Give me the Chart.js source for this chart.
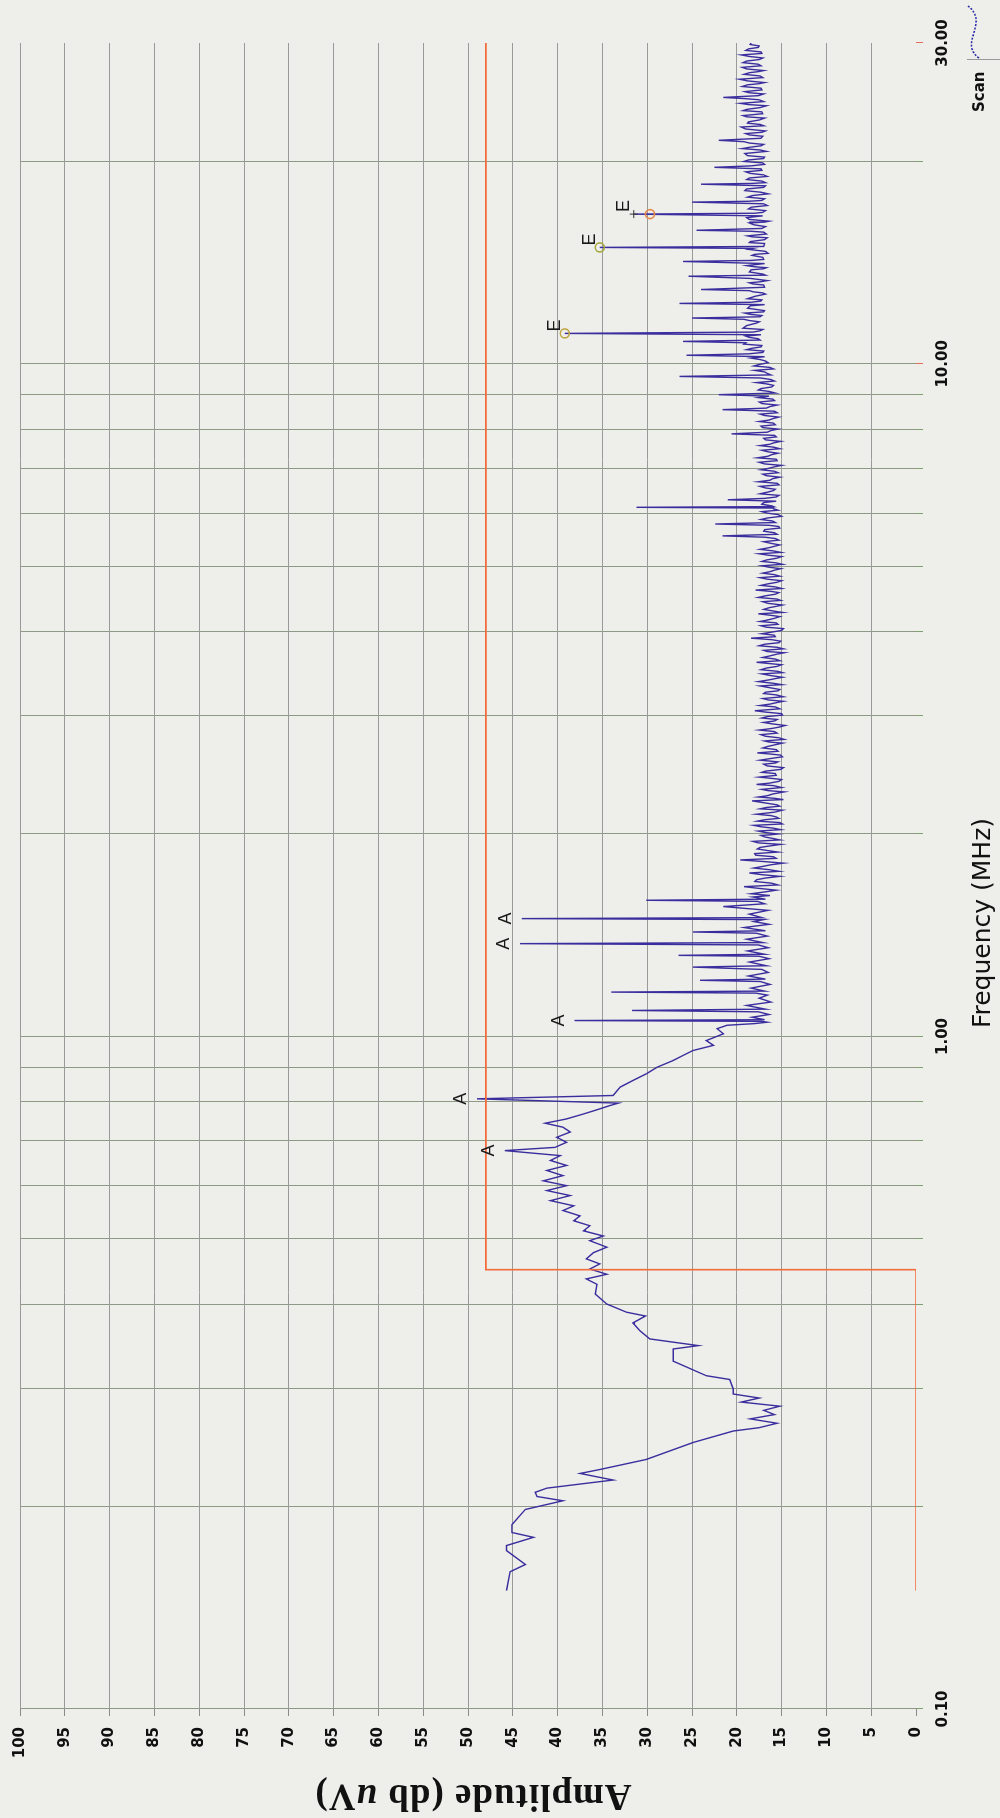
<!DOCTYPE html>
<html><head><meta charset="utf-8">
<script src="https://cdn.jsdelivr.net/npm/chart.js@4.4.1/dist/chart.umd.min.js"></script>
<style>
html,body{margin:0;padding:0;background:#eeeeea;overflow:hidden;width:1000px;height:1818px;}
#frame{position:absolute;left:0;top:0;width:1818px;height:1000px;transform-origin:0 0;transform:translate(0,1818px) rotate(-90deg);}
canvas{display:block;}
</style></head><body>
<div id="frame"><canvas id="c" width="1818" height="1000"></canvas></div>
<script>
// Conducted emission scan, 0.15 - 30 MHz (frequency in MHz, level in dBuV)
const lowBandFreq = [0.150,0.160,0.164,0.172,0.175,0.180,0.183,0.188,0.198,0.204,0.207,0.210,0.213,0.216,0.219,0.224,0.227,0.235,0.249,0.259,
  0.262,0.266,0.270,0.274,0.278,0.282,0.286,0.290,0.294,0.299,0.309,0.313,0.329,0.343,0.347,0.355,0.365,0.375,0.384,0.389,0.400,0.414];
const lowBandLevel = [45.7,45.3,43.6,45.7,45.7,42.7,45.1,45.1,43.6,39.4,42.3,42.5,41.2,37.5,33.8,37.5,35.3,30.1,24.9,20.4,
  17.5,15.5,18.5,15.8,17.0,15.2,19.5,17.5,20.4,20.4,20.8,23.4,27.1,27.1,24.3,29.7,30.8,31.6,30.2,32.3,34.5,35.8];

const midBandFreq = [0.428,0.436,0.443,0.451,0.459,0.467,0.477,0.486,0.497,0.505,0.514,0.523,0.532,0.541,0.551,0.560,0.570,0.580,0.590,0.600,
  0.610,0.621,0.632,0.643,0.654,0.665,0.6765,0.684,0.696,0.708,0.721,0.733,0.743,0.754,0.767,0.778,0.789,0.796,0.8077,0.817,
  0.841,0.860,0.880,0.900,0.921,0.937,0.953,0.970,0.986,1.009,1.027,1.039];
const midBandLevel = [35.6,36.8,34.5,36.4,35.3,36.8,36.0,34.5,36.4,34.9,37.1,36.4,38.2,37.5,39.4,38.2,40.8,38.6,41.2,39.0,
  41.6,39.4,41.2,39.0,40.8,39.7,45.9,40.3,39.0,40.1,38.6,39.4,41.4,39.0,37.1,35.6,34.2,33.2,49.0,33.8,
  33.0,31.6,30.1,28.9,27.1,26.0,24.9,22.6,23.4,21.5,22.2,21.1];

const spurBandFreq = [1.045,1.050,1.053,1.056,1.059,1.068,1.078,1.088,1.093,1.098,1.112,1.125,1.140,1.152,1.160,1.164,1.168,1.180,1.195,1.207,
  1.212,1.217,1.230,1.245,1.258,1.268,1.274,1.290,1.305,1.316,1.320,1.325,1.340,1.355,1.368,1.374,1.379,1.395,1.410,1.424,
  1.430,1.436,1.452,1.468,1.482,1.492,1.497,1.502,1.520,1.540,1.560,1.575,1.588,1.594,1.600,1.612,1.620];
const spurBandLevel = [18.0,16.6,17.2,38.1,16.9,18.3,16.4,17.6,31.7,16.8,18.9,16.2,17.5,16.6,17.9,34.0,16.9,18.4,16.3,17.4,
  24.1,16.8,18.7,16.5,17.2,24.9,16.7,18.6,16.4,17.5,26.5,16.9,18.8,16.5,17.6,44.2,17.1,18.9,16.6,17.8,
  24.9,16.8,19.2,16.4,18.1,17.0,44.0,17.2,18.6,16.5,21.5,16.9,17.7,30.1,16.8,18.2,16.3];

const highBandFreq = [
  1.63,1.65,1.67,1.69,1.71,1.73,1.75,1.77,1.79,1.81,1.83,1.85,1.87,1.89,1.91,1.93,1.95,1.97,1.99,
  2.00,2.02,2.04,2.06,2.08,2.10,2.12,2.14,2.17,2.19, 2.21,2.24,2.26,2.28,2.31,2.33,2.36,2.38,2.41,2.43,
  2.46,2.48,2.51,2.54,2.56,2.59,2.62,2.64,2.67,2.70, 2.73,2.75,2.78,2.81,2.84,2.87,2.90,2.93,2.96,2.99,
  3.02,3.05,3.09,3.12,3.15,3.18,3.22,3.25,3.28,3.32, 3.35,3.39,3.42,3.46,3.49,3.53,3.57,3.60,3.64,3.68,
  3.72,3.75,3.79,3.83,3.87,3.91,3.95,3.99,4.04,4.08, 4.12,4.16,4.21,4.25,4.29,4.34,4.38,4.43,4.47,4.52,
  4.57,4.61,4.66,4.71,4.76,4.81,4.86,4.91,4.96,5.01, 5.06,5.11,5.17,5.22,5.27,5.33,5.38,5.44,5.50,5.55,
  5.61,5.67,5.73,5.78,5.84,5.90,5.97,6.03,6.09,6.12, 6.15,6.22,6.28,6.34,6.41,6.48,6.54,6.61,6.68,6.75,
  6.82,6.89,6.96,7.03,7.10,7.18,7.25,7.33,7.40,7.48, 7.56,7.63,7.71,7.79,7.87,7.96,8.04,8.12,8.21,8.29,
  8.38,8.46,8.55,8.64,8.73,8.82,8.91,9.00,9.10,9.19, 9.29,9.38,9.48,9.58,9.68,9.78,9.88,9.98,10.1,10.2,
  10.3,10.4,10.5,10.6,10.7,10.8,10.9,11.0,11.1,11.2, 11.3,11.5,11.6,11.7,11.8,11.9,12.0,12.2,12.3,12.4,
  12.5,12.7,12.8,12.9,13.1,13.2,13.3,13.5,13.6,13.8, 13.9,14.0,14.2,14.3,14.5,14.6,14.8,14.9,15.1,15.2,
  15.4,15.5,15.7,15.8,16.0,16.2,16.3,16.5,16.7,16.8, 17.0,17.2,17.4,17.5,17.7,17.9,18.1,18.3,18.5,18.6,
  18.8,19.0,19.2,19.4,19.6,19.8,20.0,20.2,20.4,20.7, 20.9,21.1,21.3,21.5,21.8,22.0,22.2,22.5,22.7,22.9,
  23.2,23.4,23.7,23.9,24.2,24.4,24.7,24.9,25.2,25.4, 25.7,26.0,26.2,26.5,26.8,27.1,27.3,27.6,27.9,28.2,
  28.5,28.8,29.1,29.4,29.7,30.0];
const highBandLevel = [
  18.4,15.6,19.2,16.1,17.8,15.2,18.6,16.4,17.1,14.8,19.6,15.9,18.0,16.6,17.4,15.1,18.2,16.0,17.3,
  15.4,17.6,15.9,18.1,15.2,16.9,15.6,17.8,14.9,16.7, 15.5,18.3,15.8,16.6,14.7,17.2,15.9,16.4,15.0,17.5,
  15.7,16.8,14.8,17.0,15.4,16.2,15.1,17.7,15.6,16.5, 14.9,16.9,15.3,17.3,15.8,16.1,14.6,17.0,15.5,16.6,
  15.0,18.0,15.7,16.3,14.8,17.1,15.6,16.8,15.2,17.4, 15.9,16.4,14.9,17.2,15.4,16.7,15.0,17.8,15.7,16.3,
  14.7,17.0,15.5,16.9,15.1,18.4,15.8,16.2,14.8,17.3, 15.6,16.6,15.2,17.6,15.9,16.4,14.9,17.1,15.5,16.8,
  15.3,17.9,15.7,16.5,15.0,17.4,15.8,16.3,15.1,17.2, 15.6,16.7,15.0,17.5,15.9,16.4,15.2,17.0,15.7,21.6,
  15.8,16.9,15.3,22.4,16.0,16.6,15.4,17.2,15.9,31.2, 16.1,17.0,21.0,15.6,17.4,15.9,16.8,15.3,17.6,16.0,
  16.7,15.4,17.3,15.8,16.9,15.5,17.7,16.1,16.5,15.2, 17.4,15.9,16.8,15.6,20.6,16.2,17.1,15.7,17.5,16.0,
  16.9,15.5,21.6,16.3,17.2,15.8,17.6,22.0,16.4,17.3, 15.9,17.8,16.2,26.4,16.6,18.0,16.3,17.5,16.8,18.4,
  25.6,17.1,18.9,17.3,19.2,26.0,17.6,19.0,39.2,17.4, 19.3,17.8,18.6,25.0,17.2,19.1,16.9,18.5,26.4,17.3,
  18.8,16.8,18.2,24.0,17.0,18.6,16.6,25.4,17.1,18.4, 16.7,18.9,26.0,17.0,18.3,16.5,18.7,35.3,16.9,18.5,
  16.6,18.8,17.0,24.5,16.8,18.6,16.4,18.9,31.5,17.1, 18.7,16.6,25.0,17.2,18.8,16.5,19.1,17.0,24.0,16.8,
  18.9,16.6,18.5,17.2,22.5,16.9,19.2,17.0,18.8,16.7, 19.4,17.3,18.6,22.0,17.1,19.0,16.8,19.5,17.4,18.7,
  16.9,19.3,17.2,18.9,16.7,19.6,17.5,21.5,17.0,19.1, 17.3,18.8,16.9,19.7,17.4,18.6,17.0,19.4,17.6,18.9,
  17.1,19.5,17.3,18.7,17.5,18.4];

// Extra sweep points of the noise floor between the ones above
const floorFreq = [
  1.64,1.66,1.68,1.70,1.72,1.74,1.76,1.78,1.80,1.82,1.84,1.86,1.88,1.90,1.92,1.94,1.96,1.98,1.995,
  2.01,2.03,2.05,2.07,2.09,2.11,2.13,2.155,2.18,2.20, 2.225,2.25,2.27,2.295,2.32,2.345,2.37,2.395,2.42,2.445,
  2.47,2.495,2.525,2.55,2.575,2.605,2.63,2.655,2.685,2.715, 2.74,2.765,2.795,2.825,2.855,2.885,2.915,2.945,2.975,3.005,
  3.035,3.07,3.105,3.135,3.165,3.20,3.235,3.265,3.30,3.335, 3.37,3.405,3.44,3.475,3.51,3.55,3.585,3.62,3.66,3.70,
  3.735,3.77,3.81,3.85,3.89,3.93,3.97,4.015,4.06,4.10, 4.14,4.185,4.23,4.27,4.315,4.36,4.405,4.45,4.495,4.545,
  4.59,4.635,4.685,4.735,4.785,4.835,4.885,4.935,4.985,5.035, 5.085,5.14,5.195,5.245,5.30,5.355,5.41,5.47,5.525,5.58,
  5.64,5.70,5.755,5.81,5.87,5.935,6.00,6.06,6.105,6.135, 6.185,6.25,6.31,6.375,6.445,6.51,6.575,6.645,6.715,6.785,
  6.855,6.925,6.995,7.065,7.14,7.215,7.29,7.365,7.44,7.52, 7.595,7.67,7.75,7.83,7.915,8.00,8.08,8.165,8.25,8.335,
  8.42,8.505,8.595,8.685,8.775,8.865,8.955,9.05,9.145,9.24, 9.335,9.43,9.53,9.63,9.73,9.83,9.93,10.04,10.15,10.25,
  10.35,10.45,10.55,10.65,10.75,10.85,10.95,11.05,11.15,11.25, 11.4,11.55,11.65,11.75,11.85,11.95,12.1,12.25,12.35,12.45,
  12.6,12.75,12.85,13.0,13.15,13.25,13.4,13.55,13.7,13.85, 13.95,14.1,14.25,14.4,14.55,14.7,14.85,14.95,15.15,15.3,
  15.45,15.6,15.75,15.9,16.1,16.25,16.4,16.6,16.75,16.9, 17.1,17.3,17.45,17.6,17.8,18.0,18.2,18.4,18.55,18.7,
  18.9,19.1,19.3,19.5,19.7,19.9,20.1,20.3,20.55,20.8, 21.0,21.2,21.4,21.65,21.9,22.1,22.35,22.6,22.8,23.05,
  23.3,23.55,23.8,24.05,24.3,24.55,24.8,25.05,25.3,25.55, 25.85,26.1,26.35,26.65,26.95,27.2,27.45,27.75,28.05,28.35,
  28.65,28.95,29.25,29.55,29.85];
const floorLevel = [
  16.9,17.5,15.4,18.0,16.8,17.2,15.3,18.1,16.2,17.0,15.6,17.9,15.4,17.7,16.3,17.6,15.2,16.9,16.2,
  16.8,15.1,17.3,14.9,17.7,15.3,16.2,15.8,17.4,15.2, 16.9,14.8,17.6,15.9,16.5,15.0,17.8,15.3,16.2,15.6,
  17.2,15.1,16.6,15.7,17.4,14.9,16.3,15.4,17.1,15.7, 16.4,14.7,16.8,15.5,17.5,15.2,16.0,15.8,17.2,14.9,
  16.7,15.2,17.4,15.6,16.5,14.8,17.0,15.4,16.3,15.0, 17.6,15.7,16.2,14.9,17.3,15.5,16.4,15.2,17.1,15.6,
  16.6,14.8,17.5,15.3,16.1,15.7,17.2,15.0,16.7,15.4, 17.4,15.8,16.3,14.9,17.0,15.6,16.5,15.1,17.6,15.7,
  16.2,15.0,17.3,15.5,16.6,15.2,17.1,15.8,16.4,14.9, 17.2,15.6,16.5,15.1,17.4,15.8,16.2,15.3,16.9,15.5,
  17.0,15.2,16.4,15.7,17.3,15.0,16.6,15.4,16.2,15.9, 17.2,15.6,16.9,15.3,16.6,15.7,17.4,15.5,16.3,15.2,
  17.1,15.8,16.4,15.0,17.5,15.6,16.5,15.4,17.2,15.9, 16.3,15.1,17.0,15.8,16.6,15.4,17.3,15.9,16.4,15.3,
  17.4,15.8,16.7,15.5,17.5,16.0,16.4,15.7,17.6,16.1, 16.6,15.8,17.4,16.2,16.9,15.9,18.1,16.5,17.4,16.9,
  18.7,17.0,18.3,17.2,19.0,17.4,18.6,17.3,18.2,17.1, 18.9,17.5,19.2,17.4,18.5,17.0,18.8,16.9,18.4,17.2,
  18.0,17.1,18.6,16.9,18.2,17.3,18.5,16.8,18.6,17.0, 18.1,16.9,18.4,17.1,18.0,16.8,18.2,17.0,18.6,16.9,
  18.3,16.7,18.5,17.2,18.1,16.9,18.6,17.1,18.0,16.8, 18.4,17.0,18.7,16.9,18.2,17.3,18.9,16.8,18.3,17.2,
  18.6,17.0,19.0,17.3,18.4,17.1,18.7,16.9,19.1,17.4, 18.5,17.0,19.2,17.3,18.6,17.2,19.0,17.0,18.8,17.5,
  18.9,17.1,19.3,17.4,18.7,17.0,19.1,17.6,18.6,17.2, 19.4,17.5,18.8,17.1,19.2,17.6,18.9,17.3,19.3,17.5,
  18.6,17.2,19.0,17.6,18.5];

// Limit line
const limitFreq = [0.15, 0.45, 0.45, 30];
const limitLevel = [0, 0, 48, 48];

// Peaks flagged "A"
const peakAFreq = [0.6765, 0.8077, 1.056, 1.374, 1.497];
const peakALevel = [45.9, 49.0, 38.1, 44.2, 44.0];
// Peaks flagged "E": trace peak and measured level (circle)
const peakEFreq = [11.1, 14.9, 16.7];
const peakELevel = [39.2, 35.3, 31.5];
const measuredELevel = [39.2, 35.3, 29.7];

// Axis ticks
const freqGrid = [0.1,0.2,0.3,0.4,0.5,0.6,0.7,0.8,0.9,1,2,3,4,5,6,7,8,9,10,20,30];
const freqTickLabels = {0.1: '0.10', 1: '1.00', 10: '10.00', 30: '30.00'};
const levelTicks = [0,5,10,15,20,25,30,35,40,45,50,55,60,65,70,75,80,85,90,95,100];

const toXY = (fs, ls) => fs.map((f, i) => ({x: f, y: ls[i]}));
const scanData = [].concat(
  toXY(lowBandFreq, lowBandLevel), toXY(midBandFreq, midBandLevel),
  toXY(spurBandFreq, spurBandLevel), toXY(highBandFreq, highBandLevel),
  toXY(floorFreq, floorLevel)).sort((a, b) => a.x - b.x);

const markerColors = ['#bfa543', '#a3a83c', '#e6874a'];

const overlay = {
  id: 'overlay',
  afterDatasetsDraw(chart) {
    const {ctx, scales: {x, y}} = chart;
    ctx.save();
    ctx.fillStyle = '#1a1a1a';
    ctx.font = '18px "Liberation Sans"';
    ctx.textAlign = 'center';
    ctx.textBaseline = 'middle';
    peakAFreq.forEach((f, i) => {
      ctx.fillText('A', x.getPixelForValue(f), y.getPixelForValue(peakALevel[i]) - 16);
    });
    peakEFreq.forEach((f, i) => {
      const px = x.getPixelForValue(f);
      const pk = y.getPixelForValue(peakELevel[i]);
      const qp = y.getPixelForValue(measuredELevel[i]);
      if (Math.abs(pk - qp) > 2) {
        ctx.strokeStyle = '#333';
        ctx.lineWidth = 1;
        ctx.beginPath();
        ctx.moveTo(px - 4, pk); ctx.lineTo(px + 4, pk);
        ctx.moveTo(px, pk - 4); ctx.lineTo(px, pk + 4);
        ctx.stroke();
      }
      ctx.beginPath();
      ctx.arc(px, qp, 4.5, 0, Math.PI * 2);
      ctx.strokeStyle = markerColors[i];
      ctx.lineWidth = 1.6;
      ctx.stroke();
      ctx.fillStyle = '#1a1a1a';
      ctx.fillText('E', px + 8, pk - 10);
    });
    ctx.restore();
  },
  afterDraw(chart) {
    const {ctx, chartArea} = chart;
    ctx.save();
    // frequency axis title
    ctx.fillStyle = '#111';
    ctx.font = '25px "DejaVu Sans"';
    ctx.textAlign = 'center';
    ctx.textBaseline = 'middle';
    ctx.fillText('Frequency (MHz)', 895, 983);
    // level axis title, "u" in italics
    const cy = (chartArea.top + chartArea.bottom) / 2 + 5;
    ctx.translate(23, cy);
    ctx.rotate(-Math.PI / 2);
    ctx.textBaseline = 'middle';
    if ('letterSpacing' in ctx) ctx.letterSpacing = '1px';
    const base = 'bold 37px "Liberation Serif"';
    const parts = [['Amplitude (db ', base], ['u', 'italic bold 37px "Liberation Serif"'], ['V)', base]];
    let total = 0;
    parts.forEach(p => { ctx.font = p[1]; total += ctx.measureText(p[0]).width; });
    let cx = -total / 2;
    ctx.textAlign = 'left';
    parts.forEach(p => { ctx.font = p[1]; ctx.fillText(p[0], cx, 0); cx += ctx.measureText(p[0]).width; });
    ctx.restore();
    // legend
    ctx.save();
    ctx.fillStyle = '#111';
    ctx.font = 'bold 15px "DejaVu Sans"';
    ctx.textAlign = 'left';
    ctx.textBaseline = 'middle';
    ctx.fillText('Scan', 1706, 980);
    ctx.strokeStyle = '#2c2ca8';
    ctx.lineWidth = 1.6;
    ctx.setLineDash([2, 1.5]);
    ctx.beginPath();
    ctx.moveTo(1760, 979);
    ctx.bezierCurveTo(1775, 958, 1795, 990, 1812, 968);
    ctx.stroke();
    ctx.setLineDash([]);
    ctx.strokeStyle = '#9a9a9a';
    ctx.lineWidth = 1;
    ctx.beginPath();
    ctx.moveTo(1758.5, 967);
    ctx.lineTo(1758.5, 1000);
    ctx.stroke();
    ctx.restore();
  }
};

new Chart(document.getElementById('c'), {
  type: 'scatter',
  data: {
    datasets: [
      {label: 'Limit', data: toXY(limitFreq, limitLevel), showLine: true, borderColor: '#f26b3a', borderWidth: 1.6, pointRadius: 0},
      {label: 'Scan', data: scanData, showLine: true, borderColor: '#3a2e9e', borderWidth: 1.4, pointRadius: 0}
    ]
  },
  options: {
    responsive: false,
    animation: false,
    devicePixelRatio: 1,
    layout: {padding: {top: 20, right: 43, left: 0, bottom: 0}},
    plugins: {legend: {display: false}, tooltip: {enabled: false}},
    scales: {
      x: {
        type: 'logarithmic', min: 0.1, max: 30, position: 'bottom',
        afterBuildTicks: s => { s.ticks = freqGrid.map(v => ({value: v})); },
        afterFit: s => { s.height = 84; },
        border: {display: false},
        grid: {
          color: c => (c.tick && c.tick.value === 30) ? 'rgba(0,0,0,0)' : '#8f9a86',
          tickColor: c => (c.tick && (c.tick.value === 10 || c.tick.value === 30)) ? '#e0705a' : '#7fa070',
          lineWidth: 1, tickLength: 7
        },
        ticks: {
          autoSkip: false, maxRotation: 0, padding: 11, color: '#111',
          font: {family: 'DejaVu Sans', size: 15, weight: 'bold'},
          callback: v => freqTickLabels[v] || ''
        }
      },
      y: {
        min: 0, max: 100,
        afterBuildTicks: s => { s.ticks = levelTicks.map(v => ({value: v})); },
        afterFit: s => { s.width = 109; },
        border: {display: false},
        grid: {
          color: c => (c.tick && c.tick.value === 0) ? 'rgba(0,0,0,0)' : '#9a9a9a',
          tickColor: '#8a8a8a', lineWidth: 1, tickLength: 7
        },
        ticks: {
          autoSkip: false, padding: 11, color: '#111',
          font: {family: 'DejaVu Sans', size: 15, weight: 'bold'},
          callback: v => String(v)
        }
      }
    }
  },
  plugins: [overlay]
});
</script></body></html>
